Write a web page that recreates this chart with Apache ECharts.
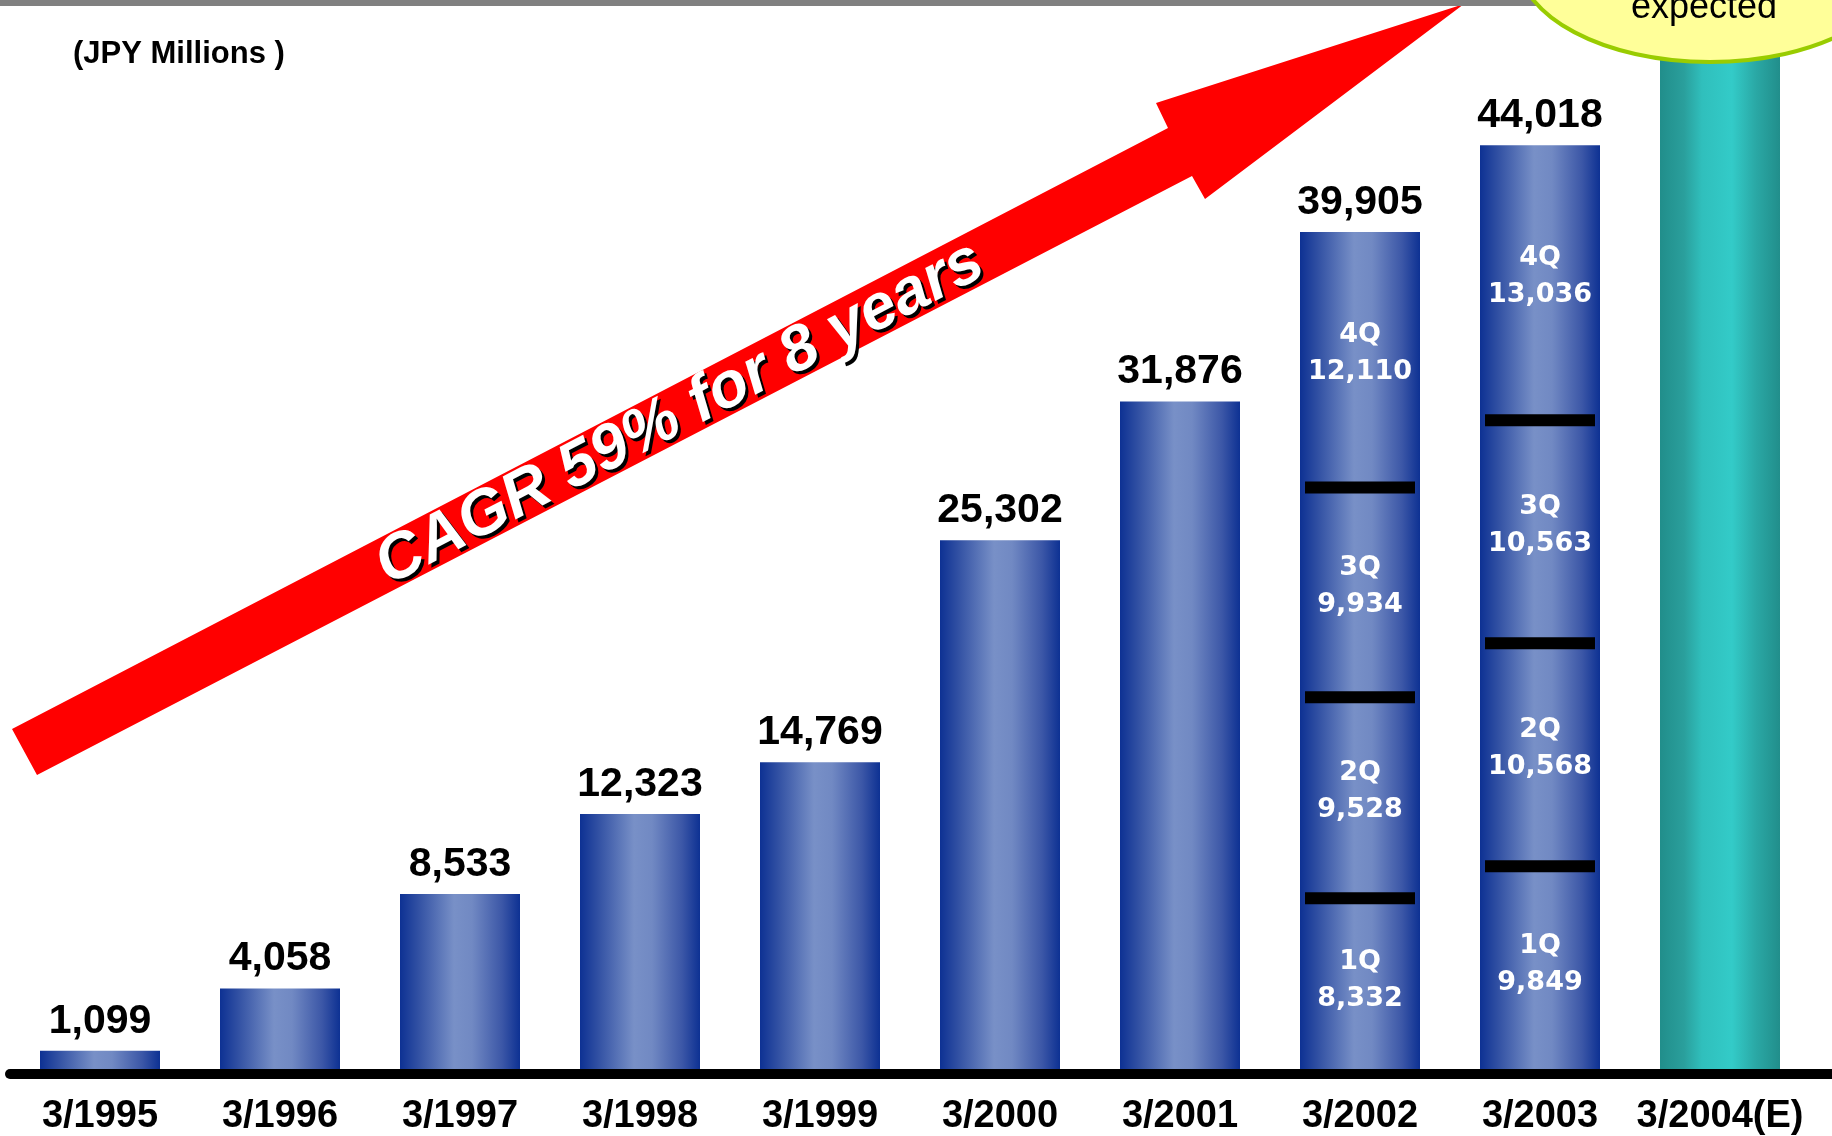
<!DOCTYPE html>
<html>
<head>
<meta charset="utf-8">
<title>Sales history</title>
<script src="https://cdn.jsdelivr.net/npm/echarts@6/dist/echarts.min.js"></script>
<style>
  html, body { margin: 0; padding: 0; background: #fff; }
  #chart { width: 1832px; height: 1136px; }
</style>
</head>
<body>
<div id="chart"></div>
<script>
// fiscal years (ending March)
const categories = ["3/1995", "3/1996", "3/1997", "3/1998", "3/1999", "3/2000", "3/2001", "3/2002", "3/2003", "3/2004(E)"];
// annual sales, JPY millions
const annualSales = [1099, 4058, 8533, 12323, 14769, 25302, 31876, 39905, 44018];
// 3/2004 has no printed value, the bar runs up under the "expected" bubble (estimate)
const expectedSales = 48500;
// quarterly breakdown
const quarterNames = ["1Q", "2Q", "3Q", "4Q"];
const fy2002Quarters = [8332, 9528, 9934, 12110];
const fy2003Quarters = [9849, 10568, 10563, 13036];
const quarterYearIndex = [7, 8];
const quarterYearData = [fy2002Quarters, fy2003Quarters];

const blueGrad = {
  type: "linear", x: 0, y: 0, x2: 1, y2: 0,
  colorStops: [
    { offset: 0, color: "#0d3193" },
    { offset: 0.15, color: "#3150a3" },
    { offset: 0.45, color: "#7890c7" },
    { offset: 0.6, color: "#7189c3" },
    { offset: 0.85, color: "#3c57a7" },
    { offset: 1, color: "#0d3193" },
  ],
};
const tealGrad = {
  type: "linear", x: 0, y: 0, x2: 1, y2: 0,
  colorStops: [
    { offset: 0, color: "#218e8b" },
    { offset: 0.2, color: "#2a9f9c" },
    { offset: 0.35, color: "#30bfbc" },
    { offset: 0.6, color: "#33cbc8" },
    { offset: 0.8, color: "#2aa8a5" },
    { offset: 1, color: "#218e8b" },
  ],
};

const fmt = (v) => Number(v).toLocaleString("en-US");

var chart = echarts.init(document.getElementById("chart"));

const salesData = categories.map((c, i) => {
  if (i < annualSales.length) return annualSales[i];
  return {
    value: expectedSales,
    itemStyle: { color: tealGrad },
    label: { show: false },
  };
});

const quarterSeries = quarterNames.map((q, qi) => ({
  name: q,
  type: "bar",
  stack: "quarters",
  barWidth: 120,
  barGap: "-100%",
  z: 3,
  itemStyle: { color: "rgba(0,0,0,0)" },
  data: categories.map((c, i) => {
    const k = quarterYearIndex.indexOf(i);
    return k < 0 ? "-" : quarterYearData[k][qi];
  }),
  label: {
    show: true,
    position: "inside",
    offset: [0, -6],
    color: "#fff",
    fontFamily: "DejaVu Sans",
    fontWeight: "bold",
    fontSize: 27,
    lineHeight: 37,
    formatter: (p) => q + "\n" + fmt(p.value),
  },
}));

// black bands between quarters
const dividerData = [];
quarterYearIndex.forEach((idx, k) => {
  let cum = 0;
  for (let qi = 0; qi < 3; qi++) {
    cum += quarterYearData[k][qi];
    dividerData.push([idx, cum]);
  }
});

const cagrText = "CAGR 59% for 8 years";
const cagrFont = "italic bold 64px 'Liberation Sans'";
const cagrRot = (27.5 * Math.PI) / 180;

const option = {
  backgroundColor: "#fff",
  animation: false,
  title: {
    text: "(JPY Millions )",
    left: 68,
    top: 34,
    textStyle: {
      fontFamily: "Liberation Sans",
      fontWeight: "bold",
      fontSize: 31,
      color: "#000",
    },
  },
  grid: { left: 10, right: 22, top: 19, bottom: 62 },
  xAxis: {
    type: "category",
    data: categories,
    z: 5,
    axisTick: { show: false },
    axisLine: { lineStyle: { color: "#000", width: 10 } },
    axisLabel: {
      margin: 24,
      color: "#000",
      fontFamily: "Liberation Sans",
      fontWeight: "bold",
      fontSize: 38,
      interval: 0,
    },
  },
  yAxis: {
    type: "value",
    min: 0,
    max: 50000,
    show: false,
  },
  series: [
    {
      name: "Sales",
      type: "bar",
      barWidth: 120,
      z: 2,
      itemStyle: { color: blueGrad },
      label: {
        show: true,
        position: "top",
        distance: 9,
        color: "#000",
        fontFamily: "Liberation Sans",
        fontWeight: "bold",
        fontSize: 41,
        formatter: (p) => fmt(p.value),
      },
      data: salesData,
    },
    ...quarterSeries,
    {
      name: "dividers",
      type: "custom",
      z: 4,
      data: dividerData,
      renderItem: (params, api) => {
        const pt = api.coord([api.value(0), api.value(1)]);
        return {
          type: "rect",
          shape: { x: pt[0] - 55, y: pt[1] - 6, width: 110, height: 12 },
          style: { fill: "#000" },
        };
      },
    },
  ],
  graphic: [
    {
      type: "rect",
      z: 50,
      shape: { x: 0, y: 0, width: 1832, height: 6 },
      style: { fill: "#808080" },
    },
    {
      // axis line carries on to the right edge
      type: "rect",
      z: 1,
      shape: { x: 1790, y: 1069, width: 42, height: 10 },
      style: { fill: "#000" },
    },
    {
      type: "polygon",
      z: 20,
      shape: {
        points: [
          [12, 729], [1168, 128], [1156, 103], [1464, 4],
          [1205, 199], [1192, 176], [37, 775],
        ],
      },
      style: { fill: "#ff0000" },
    },
    {
      type: "text",
      z: 21,
      x: 683,
      y: 417,
      rotation: cagrRot,
      style: {
        text: cagrText,
        fill: "#000",
        font: cagrFont,
        align: "center",
        verticalAlign: "middle",
      },
    },
    {
      type: "text",
      z: 22,
      x: 680,
      y: 414,
      rotation: cagrRot,
      style: {
        text: cagrText,
        fill: "#fff",
        font: cagrFont,
        align: "center",
        verticalAlign: "middle",
      },
    },
    {
      type: "ellipse",
      z: 60,
      shape: { cx: 1710, cy: -40, rx: 192, ry: 102 },
      style: { fill: "#ffff99", stroke: "#99cc00", lineWidth: 4 },
    },
    {
      type: "text",
      z: 61,
      x: 1704,
      y: 8,
      style: {
        text: "expected",
        fill: "#000",
        font: "36px 'Liberation Sans'",
        align: "center",
        verticalAlign: "middle",
      },
    },
  ],
};

chart.setOption(option);
</script>
</body>
</html>
